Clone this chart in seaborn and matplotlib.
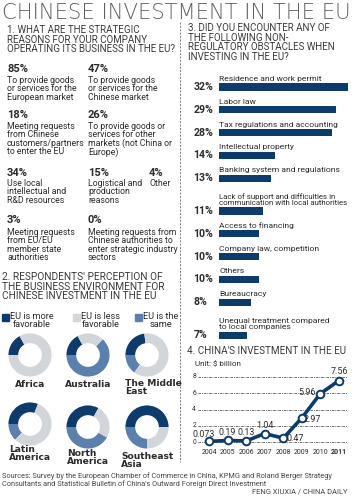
import matplotlib
matplotlib.use("Agg")
import matplotlib.pyplot as plt
import seaborn as sns
import numpy as np
import pandas as pd
from matplotlib.patches import Rectangle
from matplotlib.lines import Line2D

sns.set_theme(style="white")
BODY = ['Roboto', 'DejaVu Sans']
plt.rcParams['font.family'] = BODY
plt.rcParams['font.stretch'] = 'condensed'

# ---------------- data ----------------
title = "CHINESE INVESTMENT IN THE EU"

q1_heading = "1. WHAT ARE THE STRATEGIC\nREASONS FOR YOUR COMPANY\nOPERATING ITS BUSINESS IN THE EU?"
q1_pcts = ["85%", "47%", "18%", "26%", "34%", "15%", "4%", "3%", "0%"]
q1_texts = [
    "To provide goods\nor services for the\nEuropean market",
    "To provide goods\nor services for the\nChinese market",
    "Meeting requests\nfrom Chinese\ncustomers/partners\nto enter the EU",
    "To provide goods or\nservices for other\nmarkets (not China or\nEurope)",
    "Use local\nintellectual and\nR&D resources",
    "Logistical and\nproduction\nreasons",
    "Other",
    "Meeting requests\nfrom EU/EU\nmember state\nauthorities",
    "Meeting requests from\nChinese authorities to\nenter strategic industry\nsectors",
]

q2_heading = "2. RESPONDENTS' PERCEPTION OF\nTHE BUSINESS ENVIRONMENT FOR\nCHINESE INVESTMENT IN THE EU"
q2_legend = ["EU is more\nfavorable", "EU is less\nfavorable", "EU is the\nsame"]
regions = ["Africa", "Australia", "The Middle\nEast", "Latin\nAmerica", "North\nAmerica", "Southeast\nAsia"]
more_fav = [17, 17, 23, 31, 33, 50]
same_env = [0, 63, 15, 13, 42, 25]
less_fav = [83, 20, 62, 56, 25, 25]

q3_heading = "3. DID YOU ENCOUNTER ANY OF\nTHE FOLLOWING NON-\nREGULATORY OBSTACLES WHEN\nINVESTING IN THE EU?"
obstacles = [
    "Residence and work permit",
    "Labor law",
    "Tax regulations and accounting",
    "Intellectual property",
    "Banking system and regulations",
    "Lack of support and difficulties in\ncommunication with local authorities",
    "Access to financing",
    "Company law, competition",
    "Others",
    "Bureaucracy",
    "Unequal treatment compared\nto local companies",
]
obstacle_share = [32, 29, 28, 14, 13, 11, 10, 10, 10, 8, 7]

q4_heading = "4. CHINA'S INVESTMENT IN THE EU"
unit_label = "Unit: $ billion"
years = [2004, 2005, 2006, 2007, 2008, 2009, 2010, 2011]
investment = [0.073, 0.19, 0.13, 1.04, 0.47, 2.97, 5.96, 7.56]
investment_labels = ["0.073", "0.19", "0.13", "1.04", "0.47", "2.97", "5.96", "7.56"]

sources = ("Sources: Survey by the European Chamber of Commerce in China, KPMG and Roland Berger Strategy\n"
           "Consultants and Statistical Bulletin of China's Outward Foreign Direct Investment")
credit = "FENG XIUXIA / CHINA DAILY"

# ---------------- style ----------------
W, H = 352, 500
NAVY = "#0d3b6b"
MID = "#5b80ad"
GREY = "#d2d5d9"
TXT = "#2b2b2b"
HEAD = "#3a3a3a"

fig = plt.figure(figsize=(W / 100, H / 100), dpi=100)
fig.patch.set_facecolor("white")
renderer = fig.canvas.get_renderer()


def fx(x):
    return x / W


def fy(y):
    return 1 - y / H


def T(x, y, s, size=6.3, weight="normal", color=TXT, ha="left", va="top", ls=1.0, **kw):
    return fig.text(fx(x), fy(y), s, fontsize=size, fontweight=weight, color=color,
                    ha=ha, va=va, linespacing=ls, **kw)


def fit(t, width):
    bb = t.get_window_extent(renderer)
    t.set_fontsize(t.get_fontsize() * width / bb.width)
    return t.get_fontsize()


def axes_px(x0, y0, x1, y1):
    return fig.add_axes([fx(x0), fy(y1), (x1 - x0) / W, (y1 - y0) / H])


# title
t = T(2, 3, title, size=13.5, color="#606060", family=["DejaVu Sans"], weight=200,
      va="top", fontstretch="normal")
fit(t, 347)

# divider
fig.add_artist(Line2D([fx(180), fx(180)], [fy(22), fy(462)], color="#777777",
                      lw=0.7, ls=(0, (2, 1.5))))

# ---------------- section 1 ----------------
h1 = T(7, 25, q1_heading, size=7.2, color=HEAD, ls=0.95)
fit(h1, 169)
desc_size = 6.3
cols = [7, 88, 7, 88, 7, 88, 149, 7, 88]
pct_y = [69, 69, 115, 115, 173, 173, 173, 220, 220]
txt_y = [76, 76, 122, 122, 179, 179, 179, 228, 228]
for p, s, x, py, ty in zip(q1_pcts, q1_texts, cols, pct_y, txt_y):
    T(x, py, p, size=8.0, weight="bold", va="center")
    T(x, ty, s, size=desc_size, ls=0.92)

# ---------------- section 2 ----------------
h2 = T(2, 272, q2_heading, size=7.2, color=HEAD, ls=0.95)
fit(h2, 163)
leg_x = [2, 73, 135]
leg_c = [NAVY, GREY, MID]
for lx, lab, c in zip(leg_x, q2_legend, leg_c):
    fig.add_artist(Rectangle((fx(lx), fy(321)), 7 / W, 7 / H, color=c, transform=fig.transFigure))
    T(lx + 8, 312, lab, size=6.6, ls=0.85, ha="left", multialignment="center")

centers = [(30, 355), (88, 355), (147, 355), (30, 424), (88, 427), (147, 427)]
label_y = [380, 380, 379, 445, 449, 452]
R = 22
for (cx, cy), m, sme, l, name, ly in zip(centers, more_fav, same_env, less_fav, regions, label_y):
    ax = axes_px(cx - R, cy - R, cx + R, cy + R)
    ax.pie([m, sme, l], colors=[NAVY, MID, GREY], startangle=180 - 3.6 * m,
           counterclock=True, radius=1.0, wedgeprops=dict(width=0.45, linewidth=0))
    ax.set_xlim(-1.02, 1.02)
    ax.set_ylim(-1.02, 1.02)
    ax.set_aspect("equal")
    ax.axis("off")
    if name == "The Middle\nEast":
        T(cx - 22, ly, name, size=6.6, weight="bold", ha="left", ls=0.8,
          family=["DejaVu Sans"], fontstretch="normal")
    else:
        T(cx, ly, name, size=6.6, weight="bold", ha="center", ls=0.8,
          family=["DejaVu Sans"], fontstretch="normal", multialignment="left")

# ---------------- section 3 ----------------
h3 = T(188, 23, q3_heading, size=7.2, color=HEAD, ls=0.95)
fit(h3, 147)

n_lines = [s.count("\n") + 1 for s in obstacles]
pos = []
acc = 0.0
for i, nl in enumerate(n_lines):
    if i > 0:
        acc += 1 + 0.44 * (nl - 1)
    pos.append(acc)
unit = 22.8
bar_top_px = 87
ax3 = axes_px(219, 60, 219 + 129 / 32 * 33, 345)
df3 = pd.DataFrame({"share": obstacle_share, "pos": pos})
sns.barplot(data=df3, x="share", y="pos", orient="y", native_scale=True, color=NAVY,
            saturation=1, width=0.31, ax=ax3, linewidth=0)
ax3.set_xlim(0, 33)
ax3.set_ylim((345 - bar_top_px) / unit, -(bar_top_px - 60) / unit)
ax3.axis("off")
for p, s, lab in zip(pos, obstacle_share, obstacles):
    bt = ax3.text(0, p - 0.22, lab, fontsize=6.1, color=TXT, ha="left", va="bottom",
                  linespacing=0.92)
    w = bt.get_window_extent(renderer).width
    if w > 130:
        bt.set_fontsize(6.1 * 130 / w)
    ax3.text(-6.3, p, f"{s}%", fontsize=7.6, fontweight="bold", color=TXT, ha="left", va="center")

# ---------------- section 4 ----------------
h4 = T(187, 346, q4_heading, size=7.6, color=HEAD)
fit(h4, 158)
T(195, 361, unit_label, size=5.8, color=TXT)

px_per_year = 18.57
px_per_unit = 8.125
ax4 = axes_px(198, 371, 347, 447)
df4 = pd.DataFrame({"year": years, "inv": investment})
for g in [0, 2, 4, 6, 8]:
    ax4.axhline(g, color="#555555", lw=0.6, ls=(0, (3, 1.2, 1, 1.2)), zorder=0)
sns.lineplot(data=df4, x="year", y="inv", ax=ax4, color=NAVY, lw=2.6, marker="o",
             markersize=5.5, markerfacecolor="white", markeredgecolor=NAVY,
             markeredgewidth=1.4, zorder=3)
ax4.set_xlim(2004 - 11 / px_per_year, 2011 + 8 / px_per_year)
ax4.set_ylim(-5 / px_per_unit, 8 + 6 / px_per_unit)
ax4.axis("off")
for g in [0, 2, 4, 6, 8]:
    ax4.text(2004 - 13 / px_per_year, g, str(g), fontsize=4.8, color=TXT, ha="right", va="center")
for yr in years:
    ax4.text(yr, -10 / px_per_unit, str(yr), fontsize=5.0, color=TXT, ha="center", va="center",
             fontweight="bold" if yr == years[-1] else "normal")
offsets = [(-5, 7), (0, 8), (0, 8), (0, 8), (12, 0), (10, -2), (-13, 1), (0, 9)]
for yr, v, lab, (ox, oy) in zip(years, investment, investment_labels, offsets):
    ax4.annotate(lab, (yr, v), xytext=(ox * 0.72, oy * 0.72), textcoords="offset points",
                 fontsize=6.4, color=TXT, ha="center", va="center", zorder=4)

# ---------------- footer ----------------
src = T(2, 472, sources, size=5.6, color="#444444", ls=1.0)
fit(src, 326)
cr = T(348, 489, credit, size=5.4, color="#444444", ha="right")

fig.savefig("out.png", dpi=100, facecolor="white")
